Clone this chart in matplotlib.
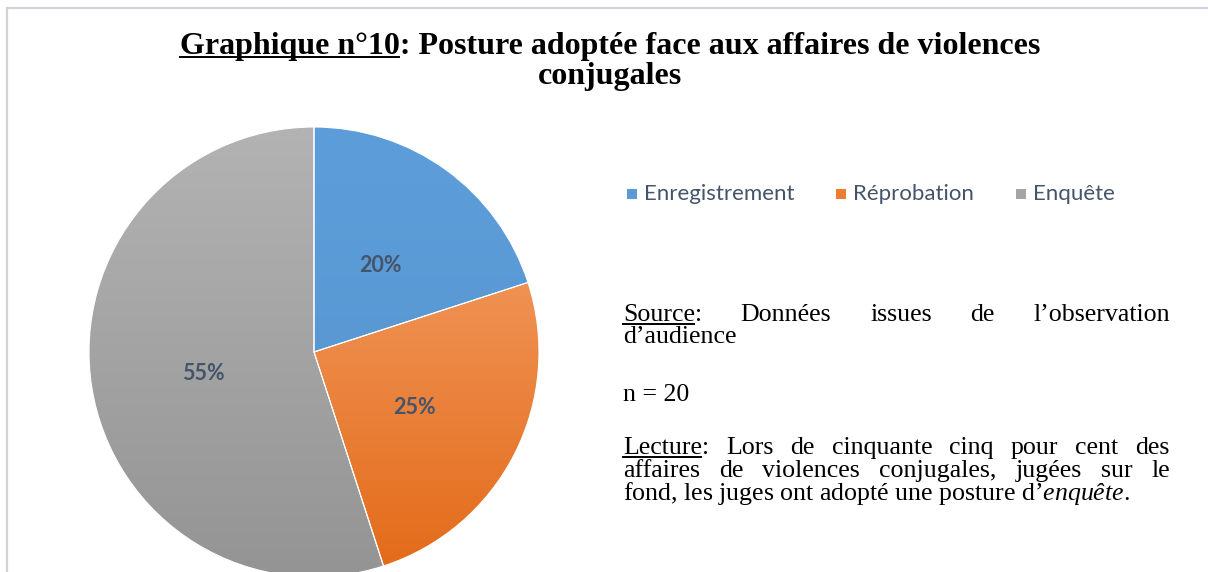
import numpy as np
import matplotlib.pyplot as plt
from matplotlib.colors import LinearSegmentedColormap
from matplotlib.patches import Rectangle

plt.rcParams["mathtext.fontset"] = "custom"
plt.rcParams["mathtext.rm"] = "Liberation Serif"
plt.rcParams["mathtext.it"] = "Liberation Serif:italic"

# données
categories = ["Enregistrement", "Réprobation", "Enquête"]
parts = [20, 25, 55]
couleurs_haut = ["#5D9EDA", "#F6A773", "#B3B3B3"]
couleurs_bas = ["#5592CC", "#E36A18", "#949494"]
couleurs_legende = ["#5B9BD5", "#ED7D31", "#A5A5A5"]

titre_souligne = "Graphique n°10"
titre_ligne1 = "Graphique n°10: Posture adoptée face aux affaires de violences"
titre_ligne2 = "conjugales"

W, H = 1208, 572
fig = plt.figure(figsize=(W / 100, H / 100), dpi=100)
fig.patch.set_facecolor("white")
renderer = fig.canvas.get_renderer()

# cadre gris clair (haut et gauche)
fig.add_artist(plt.Line2D([7 / W, 1], [1 - 8 / H, 1 - 8 / H], color="#D2D3D8", lw=1.6))
fig.add_artist(plt.Line2D([7 / W, 7 / W], [0, 1 - 8 / H], color="#D2D3D8", lw=1.6))

# camembert
cx, cy, r = 314, 352, 225
ax = fig.add_axes([(cx - r) / W, (H - cy - r) / H, 2 * r / W, 2 * r / H])
wedges, texts, autotexts = ax.pie(
    parts, colors=couleurs_legende, startangle=90, counterclock=False,
    autopct="%d%%", pctdistance=0.5,
    wedgeprops=dict(edgecolor="white", linewidth=0.8),
    textprops=dict(family="Lato", fontsize=15.5, fontweight="bold", color="#44546A"))

grad = np.linspace(1, 0, 256).reshape(-1, 1)
for w, c1, c2 in zip(wedges, couleurs_haut, couleurs_bas):
    cmap = LinearSegmentedColormap.from_list("g", [c2, c1])
    im = ax.imshow(grad, extent=(-1, 1, -1, 1), cmap=cmap, vmin=0, vmax=1,
                   aspect="auto", zorder=1, origin="upper")
    im.set_clip_path(w)
    w.set_facecolor("none")
    w.set_zorder(2)
for t in autotexts:
    x, y = t.get_position()
    t.set_position((x, y - 0.018))
    t.set_zorder(5)
ax.set_xlim(-1, 1)
ax.set_ylim(-1, 1)
ax.axis("off")

# légende (placement manuel, en pixels)
leg_x = [627, 836, 1016]
leg_y = 194
for lx, nom, c in zip(leg_x, categories, couleurs_legende):
    fig.add_artist(Rectangle((lx / W, 1 - (leg_y + 5) / H), 10 / W, 10 / H,
                             facecolor=c, edgecolor="none", transform=fig.transFigure))
    fig.text((lx + 17) / W, 1 - leg_y / H, nom, va="center", ha="left",
             family="Lato", fontsize=16, color="#44546A")


def largeur(s, **kw):
    t = fig.text(0, 0, s, **kw)
    bb = t.get_window_extent(renderer)
    t.remove()
    return bb.width


def souligner(x, y, s, **kw):
    w = largeur(s, **kw)
    fig.add_artist(plt.Line2D([x / W, (x + w - 1) / W], [1 - (y + 3) / H] * 2,
                              color="black", lw=1.4))


def ecrire(x, y, s, **kw):
    # x, y en pixels depuis le haut gauche, y = ligne de base
    fig.text(x / W, 1 - y / H, s, va="baseline", ha="left", **kw)


# titre
tkw = dict(family="Liberation Serif", fontweight="bold", fontsize=23, color="black")
w1 = largeur(titre_ligne1, **tkw)
x0 = 610 - w1 / 2
ecrire(x0, 54, titre_ligne1, **tkw)
souligner(x0, 54, titre_souligne, **tkw)
w3 = largeur(titre_ligne2, **tkw)
ecrire(610 - w3 / 2, 84, titre_ligne2, **tkw)

# bloc de texte justifié
skw = dict(family="Liberation Serif", fontsize=18.6, color="black")
XG, XD = 623, 1170


def ligne(phrase, y, justifie=True, prefixe_souligne=None):
    mots = phrase.split()
    if not justifie:
        ecrire(XG, y, phrase, **skw)
    else:
        larg = [largeur(m, **skw) for m in mots]
        esp = (XD - XG - sum(larg)) / (len(mots) - 1)
        x = XG
        for m, lm in zip(mots, larg):
            ecrire(x, y, m, **skw)
            x += lm + esp
    if prefixe_souligne:
        souligner(XG, y, prefixe_souligne, **skw)


ligne("Source: Données issues de l’observation", 321, prefixe_souligne="Source")
ligne("d’audience", 343, justifie=False)
ligne("n = 20", 401, justifie=False)
ligne("Lecture: Lors de cinquante cinq pour cent des", 454, prefixe_souligne="Lecture")
ligne("affaires de violences conjugales, jugées sur le", 477)
ligne(r"fond, les juges ont adopté une posture d’$\mathit{enquête}$.", 500,
      justifie=False)

fig.savefig("out.png", dpi=100)
